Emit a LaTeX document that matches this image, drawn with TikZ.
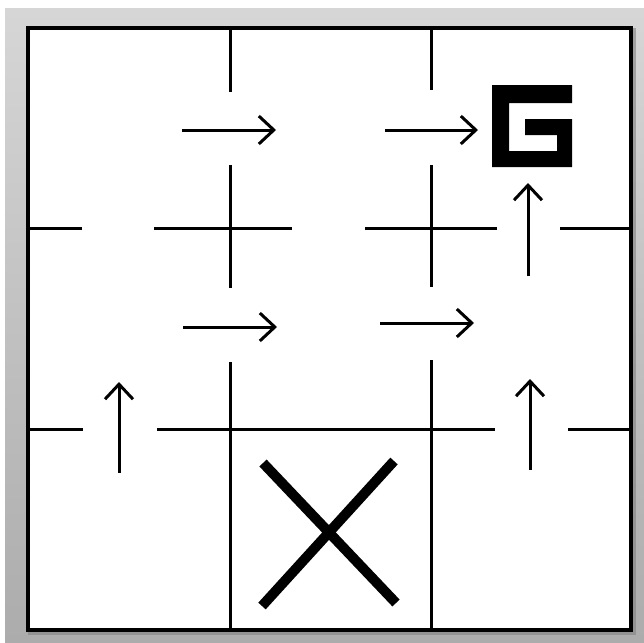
\documentclass[tikz,border=0pt]{standalone}
\usetikzlibrary{arrows.meta}
\definecolor{bgtop}{HTML}{D6D6D6}
\definecolor{bgbot}{HTML}{ACACAC}
\definecolor{shadowgray}{HTML}{808080}
\tikzset{
  wall/.style={line width=3pt, black},
  frameline/.style={line width=4pt, black},
  move/.style={line width=3pt, black, -{Straight Barb[length=15pt,width=28pt,line width=3pt]}},
  crossmark/.style={line width=10pt, black}
}
\begin{document}
\begin{tikzpicture}[x=1pt,y=-1pt]
\useasboundingbox (0,0) rectangle (644,642);
\fill[white] (0,0) rectangle (644,642);
\shade[top color=bgtop, bottom color=bgbot] (5,9) rectangle (644,642);
% frame
\draw[line width=4pt, shadowgray, opacity=0.6] (30,30) rectangle (634,633);
\fill[white] (28,28) rectangle (631,630);
\draw[frameline] (28,28) rectangle (631,630);
% vertical walls
\draw[wall] (230,28) -- (230,92);
\draw[wall] (230,165) -- (230,288);
\draw[wall] (230,362) -- (230,630);
\draw[wall] (431,28) -- (431,90);
\draw[wall] (431,165) -- (431,287);
\draw[wall] (431,360) -- (431,630);
% horizontal walls
\draw[wall] (28,228) -- (82,228);
\draw[wall] (154,228) -- (292,228);
\draw[wall] (365,228) -- (497,228);
\draw[wall] (560,228) -- (631,228);
\draw[wall] (28,429) -- (83,429);
\draw[wall] (157,429) -- (495,429);
\draw[wall] (568,429) -- (631,429);
% arrows
\coordinate (r1a) at (182,130); \coordinate (r1b) at (276,130);
\coordinate (r2a) at (385,130); \coordinate (r2b) at (478,130);
\coordinate (r3a) at (183,327); \coordinate (r3b) at (277,327);
\coordinate (r4a) at (380,323); \coordinate (r4b) at (474,323);
\coordinate (u1a) at (528,276); \coordinate (u1b) at (528,183);
\coordinate (u2a) at (119,473); \coordinate (u2b) at (119,382);
\coordinate (u3a) at (530,470); \coordinate (u3b) at (530,379);
\draw[move] (r1a) -- (r1b);
\draw[move] (r2a) -- (r2b);
\draw[move] (r3a) -- (r3b);
\draw[move] (r4a) -- (r4b);
\draw[move] (u1a) -- (u1b);
\draw[move] (u2a) -- (u2b);
\draw[move] (u3a) -- (u3b);
% goal G
\fill[black] (492,85) -- (572,85) -- (572,103) -- (509,103) -- (509,151) -- (557,151) -- (557,135) -- (525,135) -- (525,119) -- (572,119) -- (572,167) -- (492,167) -- cycle;
% X
\draw[crossmark] (263,463) -- (396,603);
\draw[crossmark] (394,461) -- (262,606);
\end{tikzpicture}
\end{document}
